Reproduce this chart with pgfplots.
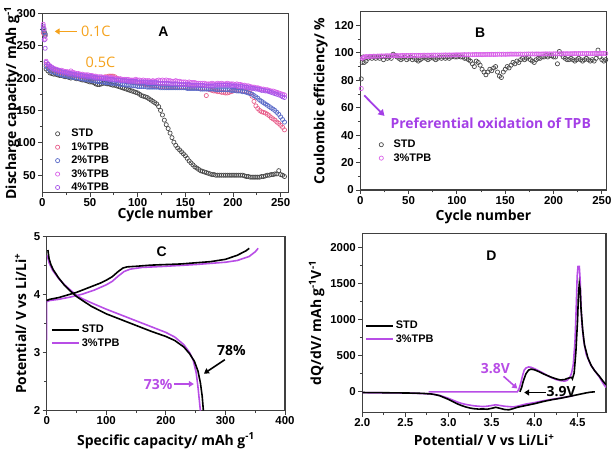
\documentclass[border=0pt]{standalone}
\usepackage{fontspec}
\setmainfont{Liberation Sans}
\newfontfamily\os{Open Sans}
\usepackage{pgfplots}
\pgfplotsset{compat=1.18}
\usepackage{pgfplotstable}
\usetikzlibrary{arrows.meta}
\definecolor{stdgray}{HTML}{4A4A4A}
\definecolor{ca}{HTML}{E8608C}
\definecolor{cb}{HTML}{5A6AC8}
\definecolor{cc}{HTML}{D860E8}
\definecolor{cd}{HTML}{A858E8}
\definecolor{tpb}{HTML}{B84DE6}
\definecolor{oann}{HTML}{F5A21C}
\definecolor{pann}{HTML}{A43FE6}
\pgfplotsset{panel/.style={scale only axis, anchor=south west,
  axis line style={line width=1.1pt, black!75},
  tick align=outside, xtick pos=bottom, ytick pos=left,
  tick style={line width=0.9pt, black!75},
  major tick length=4pt, minor tick length=2.5pt, minor tick num=1,
  ticklabel style={font=\fontsize{11.5}{12}\selectfont\bfseries},
  xticklabel shift=-1.5pt, yticklabel shift=-1pt,
  /pgf/number format/assume math mode=true,
  /pgf/number format/1000 sep={},
  label style={font=\os\bfseries\fontsize{14}{16}\selectfont},
  legend cell align=left,
  legend style={draw=none, fill=none, inner sep=0pt, row sep=0.3pt,
    font=\fontsize{11}{12.5}\selectfont\bfseries},
}}
\pgfplotstableread{
c s p1 p2 p3 p4
1 277 270 275 283 280
2 272 268 270 276 259
3 268 265 266 260 246
4 214 221 218 226 224
6 211 218 215 222 221
8 208 215 212 219 218
10 207 213 210 217 216
12 206 212 209 215 214
14 206 211 208 214 213
16 205 210 207 213 212
18 204 209 206 212 211
20 204 208 205 212 210
22 203 207 204 211 209
24 202 207 204 210 209
26 202 206 203 210 208
28 201 205 202 209 207
30 200 205 202 211 207
32 201 204 201 209 206
34 200 204 201 208 206
36 199 203 200 207 205
38 199 203 200 207 205
40 198 202 199 206 204
42 197 202 199 206 204
44 197 201 198 205 203
46 196 201 198 205 203
48 195 201 197 205 202
50 194 200 197 204 203
52 194 200 196 204 202
54 193 200 196 203 201
56 191 199 195 203 201
58 190 199 195 202 200
60 190 199 194 202 200
62 191 200 194 202 200
64 192 201 194 201 199
66 192 202 193 201 199
68 191 202 193 201 199
70 191 203 193 200 198
72 190 203 192 201 198
74 189 203 192 200 198
76 189 202 192 200 197
78 188 200 191 199 197
80 187 198 191 199 197
82 186 197 190 199 196
84 185 196 190 198 196
86 184 196 190 198 196
88 183 195 189 198 196
90 182 195 189 198 195
92 181 194 189 197 195
94 180 194 188 197 195
96 179 193 188 197 195
98 178 193 188 198 195
100 177 192 187 197 194
102 175 192 187 197 194
104 173 191 187 196 194
106 172 191 187 197 194
108 171 190 187 196 194
110 170 190 186 196 193
112 168 189 186 196 193
114 166 189 186 195 193
116 164 188 186 196 193
118 162 188 186 195 193
120 160 188 186 196 193
122 156 187 186 197 192
124 150 187 185 196 192
126 143 187 185 197 192
128 135 187 185 196 192
130 128 186 185 197 192
132 122 186 185 196 192
134 115 186 185 196 191
136 108 186 185 195 191
138 101 186 185 195 191
140 96 186 185 196 191
142 92 186 185 195 191
144 89 186 185 195 190
146 86 186 185 194 190
148 83 186 185 194 190
150 80 186 185 194 190
152 76 185 184 193 190
154 72 185 184 194 190
156 69 185 184 193 189
158 66 185 184 193 189
160 63 185 184 193 189
162 61 185 184 192 189
164 59 184 184 192 189
166 57 184 183 192 189
168 56 184 183 192 189
170 55 184 183 192 188
172 54 173 183 191 188
174 53 183 183 191 188
176 52 182 183 191 188
178 51 181 183 192 188
180 51 180 183 191 188
182 50 180 182 191 189
184 50 179 182 192 189
186 50 179 182 191 189
188 50 178 182 192 189
190 50 178 182 191 189
192 50 177 182 191 189
194 50 177 182 192 189
196 50 178 182 191 189
198 50 179 181 191 188
200 50 180 181 191 188
202 50 181 181 190 188
204 50 181 180 191 188
206 50 181 180 190 187
208 50 181 180 190 187
210 50 180 179 189 187
212 49 180 179 189 186
214 48 179 178 188 186
216 48 178 177 188 185
218 47 177 176 187 185
220 47 172 175 186 184
222 47 164 173 186 184
224 47 157 171 185 183
226 47 153 169 185 183
228 47 150 166 184 182
230 48 148 164 183 181
232 48 147 162 183 181
234 49 146 160 182 180
236 50 144 158 182 180
238 50 142 156 181 179
240 51 139 154 180 178
242 51 137 152 180 177
244 52 135 150 179 176
246 52 132 147 178 175
248 57 130 144 177 174
250 51 127 140 176 173
252 50 124 136 175 171
254 48 120 132 174 170
}\tA
\pgfplotstableread{
c s t
1 81 74
2 93 96
3 97 96.5
4 93 97
6 94 97.3
8 96 97.2
10 97 97.5
12 96 97.4
14 97 97.6
16 96 97.5
18 97 97.7
20 96 97.6
22 97 97.8
24 95 97.7
26 97 97.8
28 96 97.9
30 97 97.8
32 96 97.9
34 99 98.0
36 98 97.9
38 97 98.0
40 96 97.9
42 95 98.0
44 96 98.1
46 97 98.0
48 95 98.1
50 96 98.0
52 97 98.1
54 95 98.2
56 96 98.1
58 95 98.2
60 94 98.1
62 95 98.2
64 96 98.2
66 97 98.3
68 96 98.2
70 95 98.3
72 96 98.2
74 97 98.3
76 96 98.4
78 95 98.3
80 96 98.4
82 97 98.3
84 96 98.4
86 97 98.4
88 96 98.5
90 97 98.4
92 96 98.5
94 97 98.4
96 98 98.5
98 97 98.5
100 97 98.6
102 98 98.5
104 97 98.6
106 97 98.6
108 96 98.7
110 96 98.6
112 95 98.7
114 94 98.6
116 92 98.7
118 90 98.7
120 94 98.8
122 93 98.7
124 91 98.8
126 88 98.7
128 86 98.8
130 84 98.8
132 86 98.9
134 88 98.8
136 87 98.9
138 89 98.8
140 90 98.9
142 86 98.9
144 83 99.0
146 82 98.9
148 86 99.0
150 88 98.9
152 90 99.0
154 89 99.0
156 91 99.1
158 93 99.0
160 92 99.1
162 94 99.0
164 93 99.1
166 95 99.1
168 96 99.0
170 95 99.1
172 96 99.1
174 97 99.2
176 95 99.1
178 94 99.2
180 93 99.1
182 95 99.2
184 96 99.2
186 96 99.1
188 97 99.2
190 97 99.2
192 98 99.3
194 97 99.2
196 98 99.3
198 98 99.2
200 97 99.3
202 97 99.3
204 92 99.2
206 101 99.3
208 99 99.3
210 97 99.4
212 96 99.3
214 95 99.4
216 95 99.3
218 96 99.4
220 95 99.4
222 94 99.5
224 95 99.4
226 96 99.5
228 95 99.4
230 94 99.5
232 95 99.4
234 96 99.5
236 95 99.5
238 94 99.4
240 95 99.5
242 94 99.5
244 96 99.6
246 102 99.5
248 97 99.6
250 95 99.5
252 94 99.6
254 95 99.5
}\tB
\begin{document}
\begin{tikzpicture}
\path[use as bounding box] (0,0) rectangle (614bp,451bp);
% ---------- A
\begin{axis}[panel, at={(42.3bp,258.3bp)}, width=246bp, height=179.4bp,
  xmin=0, xmax=258, ymin=23, ymax=300, clip=false,
  xtick={0,50,...,250}, ytick={50,100,...,300},
  xlabel={Cycle number}, ylabel={Discharge capacity/ mAh g\textsuperscript{-1}},
  x label style={at={(axis description cs:0.5,-0.122)},anchor=center},
  y label style={at={(axis description cs:-0.124,0.5)},anchor=center},
  legend style={at={(axis description cs:0.037,0.366)},anchor=north west},
  legend image code/.code={\path (0,0) (0.6cm,0); \draw[#1] plot coordinates {(0.2cm,0cm)};},
  every axis plot/.append style={only marks, mark=o, mark size=2.1pt, line width=0.7pt}]
\addplot[stdgray] table[x=c,y=s]{\tA};
\addplot[ca] table[x=c,y=p1]{\tA};
\addplot[cb] table[x=c,y=p2]{\tA};
\addplot[cc] table[x=c,y=p3]{\tA};
\addplot[cd] table[x=c,y=p4]{\tA};
\legend{STD,1\%TPB,2\%TPB,3\%TPB,4\%TPB}
\draw[oann, line width=1.6pt, -{Triangle[length=5pt,width=6pt]}] (axis cs:36,272) -- (axis cs:13,272);
\node[oann, font=\os\fontsize{14.5}{16}\selectfont, anchor=west] at (axis cs:37,272) {0.1C};
\node[oann, font=\os\fontsize{14.5}{16}\selectfont] at (axis cs:61,225) {0.5C};
\node[font=\bfseries\fontsize{14}{16}\selectfont] at (axis cs:127,271) {A};
\end{axis}
% ---------- B
\begin{axis}[panel, at={(360.3bp,261bp)}, width=246.4bp, height=178.3bp,
  xmin=0, xmax=255, ymin=0, ymax=130, clip=false,
  xtick={0,50,...,250}, ytick={0,20,...,120},
  xlabel={Cycle number}, ylabel={Coulombic efficiency/ \%},
  x label style={at={(axis description cs:0.5,-0.15)},anchor=center},
  y label style={at={(axis description cs:-0.161,0.5)},anchor=center},
  legend style={at={(axis description cs:0.06,0.292)},anchor=north west},
  legend image code/.code={\path (0,0) (0.55cm,0); \draw[#1] plot coordinates {(0.2cm,0cm)};},
  every axis plot/.append style={only marks, mark=o, mark size=2.1pt, line width=0.7pt}]
\addplot[stdgray] table[x=c,y=s]{\tB};
\addplot[cc] table[x=c,y=t]{\tB};
\legend{STD,3\%TPB}
\draw[pann, line width=1.8pt, -{Triangle[length=6pt,width=7pt]}] (axis cs:4,69) -- (axis cs:25,54);
\node[pann, font=\os\bfseries\fontsize{14}{16}\selectfont] at (axis cs:135,49) {Preferential oxidation of TPB};
\node[font=\bfseries\fontsize{14}{16}\selectfont] at (axis cs:124,115) {B};
\end{axis}
% ---------- C
\begin{axis}[panel, at={(46.7bp,40.3bp)}, width=238.3bp, height=174bp,
  xmin=0, xmax=400, ymin=2, ymax=5,
  xtick={0,100,...,400}, ytick={2,3,4,5},
  xlabel={Specific capacity/ mAh g\textsuperscript{-1}}, ylabel={Potential/ V vs Li/Li\textsuperscript{+}},
  x label style={at={(axis description cs:0.5,-0.172)},anchor=center},
  y label style={at={(axis description cs:-0.109,0.5)},anchor=center},
  legend style={at={(axis description cs:0.018,0.504)},anchor=north west},
  legend image code/.code={\draw[#1] (0,0) -- (27bp,0);},
  every axis plot/.append style={line width=1.6pt}]
\addlegendimage{black, line width=1.6pt}\addlegendentry{STD}
\addlegendimage{tpb, line width=1.6pt}\addlegendentry{3\%TPB}
\addplot[tpb, forget plot] coordinates {(0,3.22) (0,3.88) (5,3.90) (20,3.92) (40,3.96) (60,4.01) (80,4.08) (100,4.17) (110,4.23) (120,4.32) (130,4.40) (140,4.44) (160,4.47) (200,4.49) (250,4.52) (300,4.56) (320,4.59) (340,4.66) (350,4.74) (355,4.80)};
\addplot[tpb, forget plot] coordinates {(1,4.68) (4,4.55) (10,4.42) (20,4.28) (30,4.17) (40,4.08) (50,3.99) (60,3.93) (75,3.86) (100,3.75) (125,3.65) (150,3.55) (175,3.45) (200,3.35) (215,3.27) (230,3.14) (240,3.00) (246,2.87) (251,2.65) (254,2.40) (256,2.20) (258,2.0)};
\addplot[black, forget plot] coordinates {(0,3.90) (5,3.92) (10,3.93) (20,3.95) (30,3.98) (40,4.01) (50,4.04) (60,4.08) (70,4.12) (80,4.16) (90,4.20) (100,4.25) (110,4.31) (120,4.40) (128,4.46) (135,4.48) (150,4.49) (175,4.51) (200,4.52) (225,4.53) (250,4.55) (275,4.57) (300,4.61) (320,4.68) (335,4.76) (340,4.80)};
\addplot[black, forget plot] coordinates {(2,4.77) (4,4.62) (7,4.52) (11,4.43) (20,4.29) (30,4.16) (40,4.06) (50,3.97) (60,3.90) (75,3.80) (100,3.67) (125,3.57) (150,3.47) (175,3.37) (200,3.28) (215,3.21) (230,3.10) (240,2.98) (248,2.85) (254,2.68) (258,2.48) (261,2.25) (263,2.0)};
\node[font=\bfseries\fontsize{14}{16}\selectfont] at (axis cs:193,4.74) {C};
\node[font=\os\bfseries\fontsize{14}{16}\selectfont] at (axis cs:310,3.03) {78\%};
\draw[black, line width=1.6pt, -{Triangle[length=5pt,width=6pt]}] (axis cs:299,2.88) -- (axis cs:264,2.64);
\node[tpb, font=\os\bfseries\fontsize{14}{16}\selectfont] at (axis cs:187,2.46) {73\%};
\draw[tpb, line width=1.6pt, -{Triangle[length=5pt,width=6pt]}] (axis cs:214,2.46) -- (axis cs:247,2.46);
\end{axis}
% ---------- D
\begin{axis}[panel, at={(362.3bp,38.3bp)}, width=243.7bp, height=179.4bp,
  xmin=2, xmax=4.83, ymin=-290, ymax=2200,
  xtick={2,2.5,...,4.5}, ytick={0,500,...,2000},
  xticklabel style={/pgf/number format/fixed, /pgf/number format/fixed zerofill, /pgf/number format/precision=1},
  xlabel={Potential/ V vs Li/Li\textsuperscript{+}}, ylabel={dQ/dV/ mAh g\textsuperscript{-1}V\textsuperscript{-1}},
  x label style={at={(axis description cs:0.5,-0.152)},anchor=center},
  y label style={at={(axis description cs:-0.187,0.5)},anchor=center},
  legend style={at={(axis description cs:0.011,0.522)},anchor=north west},
  legend image code/.code={\draw[#1] (0,0) -- (27bp,0);},
  every axis plot/.append style={line width=1.6pt}]
\addlegendimage{black, line width=1.6pt}\addlegendentry{STD}
\addlegendimage{tpb, line width=1.6pt}\addlegendentry{3\%TPB}
\addplot[tpb, forget plot] coordinates {(2.0,-12) (2.4,-15) (2.6,-20) (2.8,-30) (2.9,-50) (3.0,-90) (3.05,-115) (3.1,-140) (3.15,-160) (3.2,-175) (3.3,-195) (3.4,-205) (3.45,-200) (3.5,-190) (3.55,-180) (3.6,-190) (3.65,-200) (3.7,-205) (3.75,-210) (3.8,-200) (3.85,-185) (3.9,-170) (4.0,-150) (4.1,-125) (4.2,-105) (4.3,-85) (4.4,-65) (4.45,-55)};
\addplot[tpb, forget plot] coordinates {(2.77,0) (3.80,0) (3.82,40) (3.84,120) (3.86,220) (3.88,300) (3.9,330) (3.93,345) (3.96,340) (4.0,320) (4.05,290) (4.1,260) (4.15,225) (4.2,195) (4.25,170) (4.3,155) (4.35,148) (4.38,160) (4.41,200) (4.43,260) (4.45,380) (4.47,700) (4.485,1200) (4.495,1600) (4.505,1740) (4.52,1740) (4.53,1550) (4.54,1200) (4.55,950) (4.57,720) (4.6,520) (4.65,380) (4.7,290) (4.75,210) (4.8,110) (4.83,60)};
\addplot[black, forget plot] coordinates {(2.0,-10) (2.2,-12) (2.4,-15) (2.6,-18) (2.7,-22) (2.8,-30) (2.85,-40) (2.9,-55) (2.95,-80) (3.0,-105) (3.05,-135) (3.1,-165) (3.15,-190) (3.2,-210) (3.25,-225) (3.3,-235) (3.35,-240) (3.4,-238) (3.45,-242) (3.5,-230) (3.55,-215) (3.6,-230) (3.65,-245) (3.7,-250) (3.75,-235) (3.8,-215) (3.9,-190) (4.0,-165) (4.1,-135) (4.2,-110) (4.3,-90) (4.4,-65) (4.5,-40) (4.6,-15) (4.65,-5) (4.7,0)};
\addplot[black, forget plot] coordinates {(3.83,0) (3.85,60) (3.87,150) (3.9,250) (3.93,300) (3.96,315) (4.0,305) (4.05,280) (4.1,250) (4.15,225) (4.2,200) (4.25,180) (4.3,165) (4.35,170) (4.38,185) (4.41,195) (4.43,200) (4.44,180) (4.46,260) (4.48,550) (4.50,1000) (4.51,1350) (4.52,1500) (4.53,1420) (4.54,1150) (4.56,850) (4.58,650) (4.62,470) (4.66,360) (4.7,290) (4.75,220) (4.8,140) (4.83,100)};
\node[font=\bfseries\fontsize{14}{16}\selectfont] at (axis cs:3.5,1895) {D};
\node[tpb, font=\os\bfseries\fontsize{14}{16}\selectfont] at (axis cs:3.545,325) {3.8V};
\draw[tpb, line width=1.6pt, -{Triangle[length=5pt,width=6pt]}] (axis cs:3.64,215) -- (axis cs:3.80,45);
\node[black, font=\os\bfseries\fontsize{14}{16}\selectfont] at (axis cs:4.31,0) {3.9V};
\draw[black, line width=1.6pt, -{Triangle[length=5pt,width=6pt]}] (axis cs:4.13,-10) -- (axis cs:3.88,-10);
\end{axis}
\end{tikzpicture}
\end{document}
